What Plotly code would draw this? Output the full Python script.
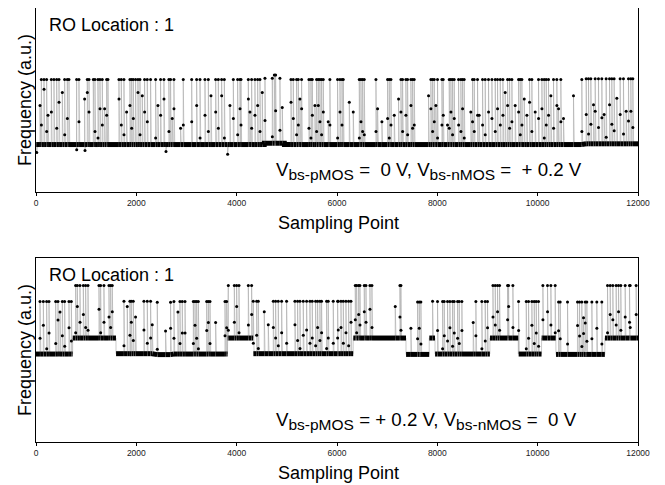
import numpy as np
import plotly.graph_objects as go

N = 12000
x_ticks = [0, 2000, 4000, 6000, 8000, 10000, 12000]
tick_labels = ["0", "2000", "4000", "6000", "8000", "10000", "12000"]

# ---------------- top panel: Vbs-pMOS = 0 V, Vbs-nMOS = +0.2 V ----------------
top_seg_start = [0, 4551, 4951, 10901]
top_seg_end = [4550, 4950, 10900, 12000]
top_seg_level = [0.258, 0.265, 0.258, 0.262]
top_amp = 0.353
top_spike_x = [80,106,159,212,239,305,358,412,458,524,571,624,657,810,856,969,1022,1056,1142,1175,
               1235,1275,1321,1368,1408,1434,1653,1700,1753,1806,1872,1906,1939,1985,2032,2072,2118,2164,2218,2284,
               2384,2430,2483,2550,2649,2682,2716,2749,2882,2935,
               3103,3202,3269,3368,3435,3488,3581,3634,3700,3754,3866,3933,4019,4066,4086,4232,4265,4298,4364,4418,
               4464,4510,4564,4710,4750,4776,4862,4909,5082,5128,5194,5228,5261,5294,5440,5480,5507,5560,5593,5626,
               5659,5692,5726,5825,5858,6011,
               6059,6099,6125,6245,6324,6444,6477,6510,6543,6776,6809,6895,7008,7041,7075,7141,7227,7274,7307,7373,
               7407,7473,7506,7539,7825,7871,7905,7938,7971,8004,8091,8117,8203,8237,8270,8303,8336,8423,8469,8502,
               8535,8668,8701,8735,8801,8834,8901,8954,9020,
               9088,9154,9200,9254,9307,9353,9400,9440,9486,9552,9619,9652,9685,9732,9785,9838,9884,9951,10017,10084,
               10130,10170,10216,10263,10316,10382,10416,10462,10515,10714,10880,10967,11013,11060,11113,11146,11212,
               11279,11325,11365,11432,11478,11524,11578,11644,11710,11764,11810,11857,11897]
top_peak = [0.6,1,1,1,0.45,1,1,1,1,0.8,1,1,1,1,1,0.7,1,1,1,1,1,1,1,0.55,1,1,1,1,1,0.5,1,1,1,1,1,1,0.75,1,1,1,
            1,0.6,1,1,1,1,0.4,1,0.25,1,
            1,1,1,1,1,0.75,1,1,1,1,0.6,1,1,1,1,1,0.5,1,1,1,1,0.8,1,1,1.05,1.05,1,0.55,1,1,1,1,0.7,1,1,1,1,0.6,1,1,
            1,1,1,0.35,1,1,
            1,1,1,0.65,0.5,1,1,1,1,1,0.55,0.35,1,1,1,0.45,0.7,1,1,1,1,1,1,1,0.75,1,1,1,0.6,1,1,1,0.3,1,1,1,1,1,1,1,
            1,0.5,1,1,1,0.45,1,1,1,
            1,1,1,1,1,0.8,1,1,1,0.6,1,1,1,0.7,0.45,1,1,0.5,1,1,1,1,1,0.75,1,1,0.55,1,0.4,0.75,1,1,1,1,0.6,1,1,1,0.45,1,
            1,1,1,0.7,1,1,0.5,1,1,1]
top_tail = [0,0.3,0.85,0.2,0,0.5,0,0.25,0.65,0,0.15,0.4,0,0.6,0.35,0,0.8,0.5,0,0.2,0.1,0.55,0.3,0,0.45,0,0.7,0.3,0.15,0,
            0.6,0.25,0.4,0,0.8,0.15,0,0.5,0.35,0,0.1,0,0.45,0.7,0.2,0,0,0.55,0,0.3,
            0.35,0.6,0.1,0.45,0.2,0,0.5,0.25,0.75,0.1,0,0.4,0.15,0.55,0.3,0.7,0,0.25,0.45,0.6,0.2,0,0.35,0.1,0,0.5,0.2,0,
            0.65,0.4,0.15,0.3,0,0.55,0.25,0.1,0.45,0,0.2,0.6,0.35,0.15,0.5,0,0.3,0.1,
            0.5,0.3,0,0,0,0.1,0.35,0.2,0.15,0.2,0,0,0.4,0.1,0.3,0,0,0.5,0.2,0.45,0.15,0.6,0.25,0.3,0,0.55,0.2,0.35,0,0.1,
            0.3,0.45,0,0.25,0.5,0.15,0.4,0.3,0.2,0.55,0.1,0,0.35,0.2,0.45,0,0.3,0.15,0.5,
            0.4,0.2,0.55,0.3,0.45,0,0.6,0.25,0.35,0,0.5,0.15,0.3,0,0,0.65,0.2,0,0.4,0.55,0.1,0.3,0.45,0,0.25,0.6,0,0.35,
            0,0,0.2,0.45,0.15,0.3,0,0.5,0.25,0.4,0,0.1,0.6,0.3,0.2,0,0.45,0.15,0,0.35,0.5,0.25]
top_dip_x = [15, 811, 977, 2591, 3820]
top_dip_v = [0.215, 0.23, 0.225, 0.22, 0.205]

# ---------------- bottom panel: Vbs-pMOS = +0.2 V, Vbs-nMOS = 0 V ----------------
bot_seg_start = [0, 731, 1595, 2400, 2700, 3600, 3700, 3820, 4331, 6324, 7376, 7839, 7954, 9048, 9614, 10078, 10365, 11340]
bot_seg_end = [730, 1594, 2399, 2699, 3599, 3699, 3819, 4330, 6323, 7375, 7838, 7953, 9047, 9613, 10077, 10364, 11339, 12000]
bot_seg_level = [0.478, 0.565, 0.480, 0.475, 0.478, 0.472, 0.478, 0.565, 0.480, 0.565, 0.476, 0.565, 0.478, 0.565,
                 0.478, 0.565, 0.476, 0.565]
bot_amp = 0.285
bot_spike_x = [80,146,212,259,392,438,478,524,571,657,704,790,823,876,943,989,1036,1255,1288,1354,
               1454,1487,1520,1753,1819,1872,1899,1939,1985,2151,2218,2284,2317,2417,2583,2682,2749,2829,2869,2915,
               2970,3136,3169,3202,3236,3402,3435,3468,3581,3767,3800,3833,3953,3999,4046,4232,4298,4331,4398,4431,
               4550,4630,4730,4776,4829,4896,4995,5161,5214,5261,5327,5394,5460,5506,5573,5613,5659,5692,5792,5825,
               5925,6024,
               6012,6079,6125,6178,6231,6278,6364,6391,6431,6457,6543,6577,6656,6696,7161,7254,7274,7473,7606,7639,
               7672,7905,8004,8104,8137,8203,8250,8303,8336,8403,8436,8489,8715,8768,8887,8954,9000,
               9108,9154,9200,9240,9400,9420,9506,9619,9772,9818,9884,9931,9971,10017,10104,10196,10263,10349,10416,
               10449,10595,10794,10834,10880,10914,10947,10980,11080,11179,11279,11392,11445,11498,11564,11611,11657,
               11744,11830,11844,11963]
bot_peak = [1,1,1,1,1,1,0.8,1,1,1,1,1,1,1,1,1,1,1,1,1,1,1,1,1,0.9,1,1,1,0.7,1,1,1,0.55,1,0.45,1,1,0.8,1,1,
            1,1,1,1,1,1,1,1,0.6,1,1,1,1,1,1,1,1,1,1,1,0.8,0.55,1,1,1,1,1,1,1,1,1,1,1,1,1,1,1,1,1,1,1,1,
            1,1,1,1,1,1,1,1,1,1,1,1,1,1,0.6,1,1,0.5,1,1,1,0.7,1,1,1,1,1,1,1,1,1,1,0.6,1,1,1,1,
            1,1,1,1,1,1,1,1,1,1,1,1,1,1,1,1,1,1,1,1,1,1,1,1,0.7,1,1,1,1,1,1,1,1,1,1,1,1,1,1,1]
bot_tail = [0.3,0.55,0.1,0.4,0.2,0.65,0,0.35,0.15,0.5,0.25,0.1,0.6,0.3,0.45,0.2,0.15,0.55,0.1,0.3,
            0.4,0.2,0.5,0.15,0,0.35,0.6,0.25,0,0.45,0.2,0.3,0,0.1,0,0.5,0.3,0,0.2,0.4,
            0.4,0.2,0.55,0.3,0.1,0.45,0.6,0.2,0,0.35,0.5,0.15,0.3,0.6,0.1,0.25,0.45,0.2,0.35,0.1,
            0,0,0.5,0.3,0.15,0.4,0.2,0.55,0.25,0.1,0.35,0.45,0.2,0.3,0.15,0.5,0.25,0.4,0.1,0.3,0.2,0.45,
            0.3,0.5,0.2,0.4,0.15,0.6,0.35,0.1,0.45,0.25,0.5,0.3,0.55,0.2,0,0.4,0.15,0,0.3,0.5,
            0.2,0,0.45,0.1,0.35,0.25,0.5,0.15,0.4,0.3,0.2,0.45,0,0.35,0.1,0.25,0.5,
            0.4,0.25,0.5,0.15,0.35,0.6,0.2,0.45,0.1,0.3,0.55,0.2,0.4,0.15,0.35,0.5,0.25,0.1,0.45,0.3,
            0.2,0.55,0.35,0.15,0.4,0.6,0.25,0.3,0.5,0.2,0.1,0.45,0.35,0.25,0.5,0.15,0.4,0.3,0.2,0.45]
bot_dip_x = []
bot_dip_v = []

panel_label = "RO Location : 1"
SUB = "<sub><span style='font-size:15.5px'>%s</span></sub>"
top_condition = "V" + SUB % "bs-pMOS" + " =  0 V, V" + SUB % "bs-nMOS" + " =  + 0.2 V"
bot_condition = "V" + SUB % "bs-pMOS" + " = + 0.2 V, V" + SUB % "bs-nMOS" + " =  0 V"
x_title = "Sampling Point"
y_title = "Frequency (a.u.)"


def build(seg_s, seg_e, seg_l, spk_x, peak, tail, amp, dip_x, dip_v):
    y = np.zeros(N + 1)
    for s, e, l in zip(seg_s, seg_e, seg_l):
        y[s:e + 1] = l
    base = y.copy()
    spike = np.zeros(N + 1, dtype=bool)
    for xi, a, b in zip(spk_x, peak, tail):
        y[xi] = base[xi] + amp * a
        spike[xi] = True
        if b > 0 and xi + 1 <= N:
            y[xi + 1] = base[xi + 1] + amp * b
            spike[xi + 1] = True
    for xi, v in zip(dip_x, dip_v):
        y[xi] = v
        spike[xi] = True
    yb = [None if spike[i] else float(y[i]) for i in range(N + 1)]
    for k in range(1, len(seg_s)):
        if abs(seg_l[k] - seg_l[k - 1]) > 0.03:
            yb[seg_s[k]] = None
    return y, yb, spike


xs = np.arange(N + 1)
fig = go.Figure()
panels = [
    (build(top_seg_start, top_seg_end, top_seg_level, top_spike_x, top_peak, top_tail, top_amp, top_dip_x, top_dip_v), "x", "y"),
    (build(bot_seg_start, bot_seg_end, bot_seg_level, bot_spike_x, bot_peak, bot_tail, bot_amp, bot_dip_x, bot_dip_v), "x2", "y2"),
]
for (y, yb, spike), xa, ya in panels:
    fig.add_trace(go.Scatter(x=xs.tolist(), y=y.tolist(), mode="lines", xaxis=xa, yaxis=ya,
                             line=dict(color="#a8a8a8", width=0.6), hoverinfo="skip", showlegend=False))
    fig.add_trace(go.Scatter(x=xs.tolist(), y=yb, mode="lines", xaxis=xa, yaxis=ya, connectgaps=False,
                             line=dict(color="black", width=5), hoverinfo="skip", showlegend=False))
    fig.add_trace(go.Scatter(x=xs[spike].tolist(), y=y[spike].tolist(), mode="markers", xaxis=xa, yaxis=ya,
                             marker=dict(color="black", size=3), hoverinfo="skip", showlegend=False))

font_main = "Liberation Sans, Arial, sans-serif"
xax = dict(range=[0, N], tickvals=x_ticks, ticktext=tick_labels, ticks="outside", ticklen=3, tickcolor="black",
           showline=True, linecolor="black", linewidth=1, mirror=True, showgrid=False, zeroline=False,
           tickfont=dict(family=font_main, size=8.5, color="#222"), domain=[0, 1])
yax = dict(range=[0, 1], showticklabels=False, ticks="", showline=True, linecolor="black", linewidth=1.3,
           mirror=True, showgrid=False, zeroline=False)

# the page adds an 8px body margin, so the figure is 8px smaller and margins shifted accordingly
fig.update_layout(
    width=657, height=477, margin=dict(l=28, r=27, t=0, b=43),
    paper_bgcolor="white", plot_bgcolor="white",
    xaxis=dict(xax, anchor="y"), yaxis=dict(yax, domain=[0.576, 1], anchor="x"),
    xaxis2=dict(xax, anchor="y2"), yaxis2=dict(yax, domain=[0, 0.424], anchor="x2"),
    font=dict(family=font_main, color="black"),
)

def px_x(px):
    return (px - 36) / 602.0

def px_y(py):
    return (442 - py) / 434.0

ann = []
for off, cond in [(0, top_condition), (250, bot_condition)]:
    ann.append(dict(text=panel_label, x=px_x(47), y=px_y(25 + off), xref="paper", yref="paper",
                    xanchor="left", yanchor="middle", showarrow=False, font=dict(size=18)))
    ann.append(dict(text=y_title, x=px_x(25), y=px_y(100 + off), xref="paper", yref="paper", textangle=-90,
                    xanchor="center", yanchor="middle", showarrow=False, font=dict(size=18)))
    ann.append(dict(text=x_title, x=px_x(338), y=px_y(223 + off), xref="paper", yref="paper",
                    xanchor="center", yanchor="middle", showarrow=False, font=dict(size=18)))
    ann.append(dict(text=cond, x=px_x(274), y=px_y(171 + off), xref="paper", yref="paper",
                    xanchor="left", yanchor="middle", showarrow=False, font=dict(size=18.7)))
fig.update_layout(annotations=ann)

fig.write_html("out.html")
